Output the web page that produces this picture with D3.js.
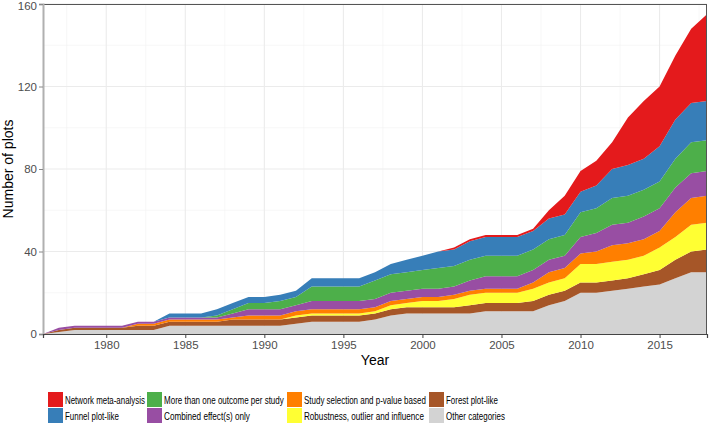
<!DOCTYPE html>
<html><head><meta charset="utf-8">
<script src="https://cdn.jsdelivr.net/npm/d3@7"></script>
<style>body{margin:0;background:#fff}svg{display:block;font-family:"Liberation Sans",Arial,sans-serif}</style>
</head><body><svg id="c" width="709" height="435"></svg>
<script>
const years = d3.range(1976, 2019);
const seriesNames = ["Other categories","Forest plot-like","Robustness, outlier and influence","Study selection and p-value based","Combined effect(s) only","More than one outcome per study","Funnel plot-like","Network meta-analysis"];
const other    = [0,1,2,2,2,2,2,2,4,4,4,4,4,4,4,4,5,6,6,6,6,7,9,10,10,10,10,10,11,11,11,11,14,16,20,20,21,22,23,24,27,30,30];
const forest   = [0,1,1,1,1,1,2,2,2,2,2,2,3,3,3,3,3,3,3,3,3,3,3,3,3,3,3,4,4,4,4,5,5,5,5,5,5,5,6,7,9,10,11];
const robust   = [0,0,0,0,0,0,0,0,0,0,0,0,0,0,0,0,1,1,1,1,1,1,2,2,3,3,4,5,5,5,5,6,6,6,9,9,9,9,9,11,11,13,13];
const studySel = [0,0,0,0,0,0,1,1,1,1,1,1,1,2,2,2,2,2,2,2,2,2,2,2,2,2,2,2,2,2,2,3,5,5,5,6,8,8,8,8,12,13,13];
const combined = [0,1,1,1,1,1,1,1,1,1,1,1,2,3,3,3,3,4,4,4,4,4,4,4,4,4,4,5,6,6,6,6,6,6,8,9,10,10,11,11,12,12,12];
const moreOne  = [0,0,0,0,0,0,0,0,0,0,0,1,2,3,3,4,4,7,7,7,7,9,9,9,9,10,10,10,10,10,10,10,10,10,12,12,13,13,13,13,14,15,15];
const funnel   = [0,0,0,0,0,0,0,0,2,2,2,3,3,3,3,3,3,4,4,4,4,4,5,6,7,8,8,9,9,9,9,9,10,10,10,11,14,15,15,17,19,19,19];
const network  = [0,0,0,0,0,0,0,0,0,0,0,0,0,0,0,0,0,0,0,0,0,0,0,0,0,0,1,1,1,1,1,1,4,9,10,12,13,23,28,29,31,36,42];
const colors = ["#d3d3d3","#a65628","#ffff33","#ff7f00","#984ea3","#4daf4a","#377eb8","#e41a1c"];
const yTicks = [0,40,80,120,160];
const xTicks = [1980,1985,1990,1995,2000,2005,2010,2015];

const cols = [other,forest,robust,studySel,combined,moreOne,funnel,network];
const rows = years.map((y,i)=>{const r={year:y}; seriesNames.forEach((n,k)=>r[n]=cols[k][i]); return r;});

const svg = d3.select("#c");
const L=43, R=707, T=4, B=334;
const x = d3.scaleLinear().domain([1976,2018]).range([L,R]);
const y = d3.scaleLinear().domain([0,160]).range([B,T]);

// grid
const g = svg.append("g");
d3.range(20,160,40).forEach(v=>g.append("line").attr("x1",L).attr("x2",R).attr("y1",y(v)).attr("y2",y(v)).attr("stroke","#f2f2f2").attr("stroke-width",0.6));
[1977.5,1982.5,1987.5,1992.5,1997.5,2002.5,2007.5,2012.5,2017.5].forEach(v=>g.append("line").attr("y1",T).attr("y2",B).attr("x1",x(v)).attr("x2",x(v)).attr("stroke","#f2f2f2").attr("stroke-width",0.6));
yTicks.forEach(v=>g.append("line").attr("x1",L).attr("x2",R).attr("y1",y(v)).attr("y2",y(v)).attr("stroke","#ebebeb").attr("stroke-width",1.1));
xTicks.forEach(v=>g.append("line").attr("y1",T).attr("y2",B).attr("x1",x(v)).attr("x2",x(v)).attr("stroke","#ebebeb").attr("stroke-width",1.1));

const stack = d3.stack().keys(seriesNames).order(d3.stackOrderNone).offset(d3.stackOffsetNone);
const layers = stack(rows);
const area = d3.area().x(d=>x(d.data.year)).y0(d=>y(d[0])).y1(d=>y(d[1]));
svg.append("g").selectAll("path").data(layers).join("path").attr("d",area).attr("fill",(d,i)=>colors[i]);

// border
svg.append("line").attr("x1",L).attr("x2",R).attr("y1",T+0.5).attr("y2",T+0.5).attr("stroke","#555");
svg.append("line").attr("x1",R-0.5).attr("x2",R-0.5).attr("y1",T).attr("y2",B).attr("stroke","#555");

// axes
const ya = svg.append("g").attr("transform",`translate(${L},0)`).call(d3.axisLeft(y).tickValues(yTicks).tickSize(4).tickPadding(2));
ya.select(".domain").attr("stroke","#b0b0b0").attr("stroke-width",2);
ya.selectAll(".tick line").attr("stroke","#888");
ya.selectAll("text").attr("fill","#4d4d4d").style("font-size","11.5px");
ya.selectAll(".tick").filter(d=>d===160).select("text").attr("dy","0.5em");
const xa = svg.append("g").attr("transform",`translate(0,${B})`).call(d3.axisBottom(x).tickValues(xTicks).tickFormat(d3.format("d")).tickSize(4).tickPadding(3));
xa.select(".domain").attr("stroke","#444").attr("stroke-width",1.2);
xa.selectAll(".tick line").attr("stroke","#444");
xa.selectAll("text").attr("fill","#4d4d4d").style("font-size","11.5px");

svg.append("text").attr("x",375).attr("y",365).attr("text-anchor","middle").style("font-size","14px").attr("fill","#000").text("Year");
svg.append("text").attr("transform","translate(13,169) rotate(-90)").attr("text-anchor","middle").style("font-size","14px").attr("fill","#000").text("Number of plots");

// legend
const legendOrder = [7,6,5,4,3,2,1,0];
const colX = [48,147,287,429];
const rowY = [392,408];
const tl = {"Network meta-analysis":80,"Funnel plot-like":54,"More than one outcome per study":120,"Combined effect(s) only":86,"Study selection and p-value based":122,"Robustness, outlier and influence":120,"Forest plot-like":52,"Other categories":59};
const lg = svg.append("g");
legendOrder.forEach((k,i)=>{
  const c = Math.floor(i/2), r = i%2;
  lg.append("rect").attr("x",colX[c]).attr("y",rowY[r]).attr("width",15).attr("height",15).attr("fill",colors[k]);
  const t = lg.append("text").attr("x",0).attr("y",0).style("font-size","10.5px").attr("fill","#000").text(seriesNames[k]);
  const w = t.node().getComputedTextLength();
  const s = tl[seriesNames[k]] / w;
  t.attr("transform",`translate(${colX[c]+17},${rowY[r]+11.5}) scale(${s},1)`);
});
</script></body></html>
